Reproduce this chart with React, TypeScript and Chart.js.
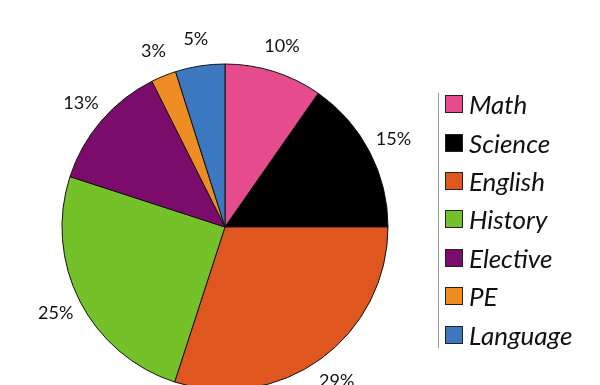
import React, { useEffect, useRef } from "react";
import { Chart, registerables } from "chart.js";

Chart.register(...registerables);

const categories = ["Math", "Science", "English", "History", "Elective", "PE", "Language"];
const values = [9.7, 15.3, 30, 25, 12.6, 2.5, 4.9];
const colors = ["#E64C8D", "#000000", "#E0561F", "#74C12A", "#7C0C6C", "#EE8D23", "#3B78BF"];
const valueLabels = ["10%", "15%", "29%", "25%", "13%", "3%", "5%"];

const labelPlugin = {
  id: "outerLabels",
  afterDatasetsDraw(chart: any) {
    const ctx = chart.ctx;
    const meta = chart.getDatasetMeta(0);
    ctx.save();
    ctx.font = "18px Lato";
    ctx.fillStyle = "#111";
    ctx.textAlign = "center";
    ctx.textBaseline = "middle";
    meta.data.forEach((arc: any, i: number) => {
      const { x, y, startAngle, endAngle, outerRadius } = arc.getProps(
        ["x", "y", "startAngle", "endAngle", "outerRadius"],
        true
      );
      const mid = (startAngle + endAngle) / 2;
      const r = outerRadius + 27;
      ctx.fillText(valueLabels[i], x + Math.cos(mid) * r, y + Math.sin(mid) * r);
    });
    ctx.restore();
  },
};

export default function App() {
  const ref = useRef<HTMLCanvasElement | null>(null);
  useEffect(() => {
    if (!ref.current) return;
    const chart = new Chart(ref.current, {
      type: "pie",
      data: {
        labels: categories,
        datasets: [
          {
            data: values,
            backgroundColor: colors,
            borderColor: "#111",
            borderWidth: 1,
          },
        ],
      },
      options: {
        animation: false,
        responsive: false,
        radius: 163,
        layout: { padding: { left: 62, right: 212, top: 64, bottom: 30 } },
        plugins: {
          legend: { display: false },
          tooltip: { enabled: false },
        },
      },
      plugins: [labelPlugin],
    });
    return () => chart.destroy();
  }, []);

  return (
    <div style={{ position: "absolute", left: 0, top: 0, width: 600, height: 385, overflow: "hidden", background: "#fff" }}>
      <canvas ref={ref} width={600} height={420} style={{ position: "absolute", left: 0, top: 0 }} />
      <div
        style={{
          position: "absolute",
          left: 438,
          top: 93,
          height: 255,
          borderLeft: "1px solid #999",
        }}
      />
      <div style={{ position: "absolute", left: 445, top: 85, fontFamily: "Lato", fontStyle: "italic", fontSize: 26 }}>
        {categories.map((c, i) => (
          <div key={c} style={{ display: "flex", alignItems: "center", height: 38.4, color: "#111" }}>
            <span
              style={{
                display: "inline-block",
                width: 16,
                height: 16,
                background: colors[i],
                border: "1px solid #222",
                marginRight: 6,
              }}
            />
            <span style={{ lineHeight: "38px" }}>{c}</span>
          </div>
        ))}
      </div>
    </div>
  );
}
